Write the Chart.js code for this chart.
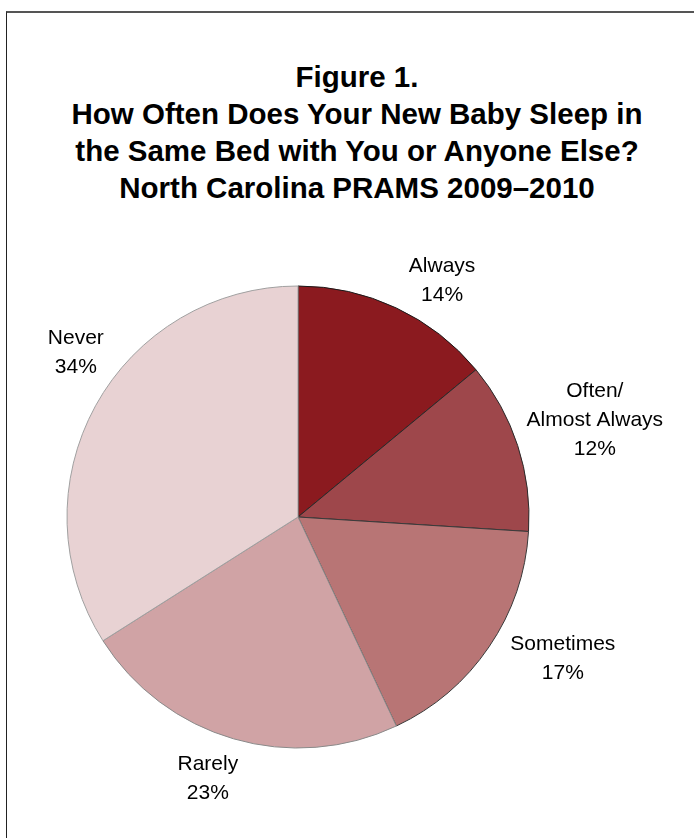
<!DOCTYPE html>
<html>
<head>
<meta charset="utf-8">
<script src="https://cdn.jsdelivr.net/npm/chart.js@4.4.1/dist/chart.umd.min.js"></script>
<style>
  html, body { margin: 0; padding: 0; background: #fff; width: 694px; height: 838px; overflow: hidden; }
  #wrap { position: relative; width: 694px; height: 838px; }
  #frame { position: absolute; left: 6px; top: 11px; width: 720px; height: 860px;
           border-top: 2px solid #555; border-left: 1px solid #222; box-sizing: border-box; }
  #title { position: absolute; left: 0; width: 714px; top: 58px; text-align: center;
           font-family: "Liberation Sans", Arial, sans-serif; font-weight: bold; font-size: 29.5px;
           line-height: 37px; color: #000; }
  canvas { position: absolute; left: 0; top: 0; }
</style>
</head>
<body>
<div id="wrap">
  <div id="frame"></div>
  <div id="title">Figure 1.<br>How Often Does Your New Baby Sleep in<br>the Same Bed with You or Anyone Else?<br>North Carolina PRAMS 2009–2010</div>
  <canvas id="c" width="694" height="838"></canvas>
</div>
<script>
// ---- data ----
const categories = ['Always', 'Often/ Almost Always', 'Sometimes', 'Rarely', 'Never'];
const labelLines = [['Always'], ['Often/', 'Almost Always'], ['Sometimes'], ['Rarely'], ['Never']];
const percentages = [14, 12, 17, 23, 34];

// ---- styles ----
const sliceColors = ['#8B1A1F', '#9E474B', '#B87575', '#D0A3A5', '#E8D2D3'];
const sliceBorders = ['#1a1a1a', '#2a2a2a', '#3a3a3a', '#8a8a8a', '#a0a0a0'];
// label placement relative to each slice's mid-angle (degrees, clockwise) and outer radius
const labelAngleShift = [6.2, 0, -6, 2.8, 7.6];
const labelDistance = [1.197, 1.351, 1.301, 1.199, 1.195];

const sliceLabels = {
  id: 'sliceLabels',
  afterDatasetsDraw(chart) {
    const meta = chart.getDatasetMeta(0);
    const ctx = chart.ctx;
    ctx.save();
    ctx.font = '21px "Liberation Sans", Arial, sans-serif';
    ctx.fillStyle = '#000';
    ctx.textAlign = 'center';
    ctx.textBaseline = 'middle';
    const lh = 29;
    meta.data.forEach((arc, i) => {
      const p = arc.getProps(['x', 'y', 'startAngle', 'endAngle', 'outerRadius'], true);
      const mid = (p.startAngle + p.endAngle) / 2 + labelAngleShift[i] * Math.PI / 180;
      const d = p.outerRadius * labelDistance[i];
      const cx = p.x + Math.cos(mid) * d;
      const cy = p.y + Math.sin(mid) * d;
      const lines = labelLines[i].concat([percentages[i] + '%']);
      lines.forEach((t, j) => {
        ctx.fillText(t, cx, cy + (j - (lines.length - 1) / 2) * lh);
      });
    });
    ctx.restore();
  }
};

new Chart(document.getElementById('c'), {
  type: 'pie',
  data: {
    labels: categories,
    datasets: [{
      data: percentages,
      backgroundColor: sliceColors,
      borderColor: sliceBorders,
      borderWidth: 1,
      borderAlign: 'center'
    }]
  },
  options: {
    responsive: false,
    animation: false,
    devicePixelRatio: 1,
    radius: 231,
    layout: { padding: { left: 10, right: 108, top: 220, bottom: 24 } },
    plugins: {
      legend: { display: false },
      tooltip: { enabled: false },
      title: { display: false }
    }
  },
  plugins: [sliceLabels]
});
</script>
</body>
</html>
